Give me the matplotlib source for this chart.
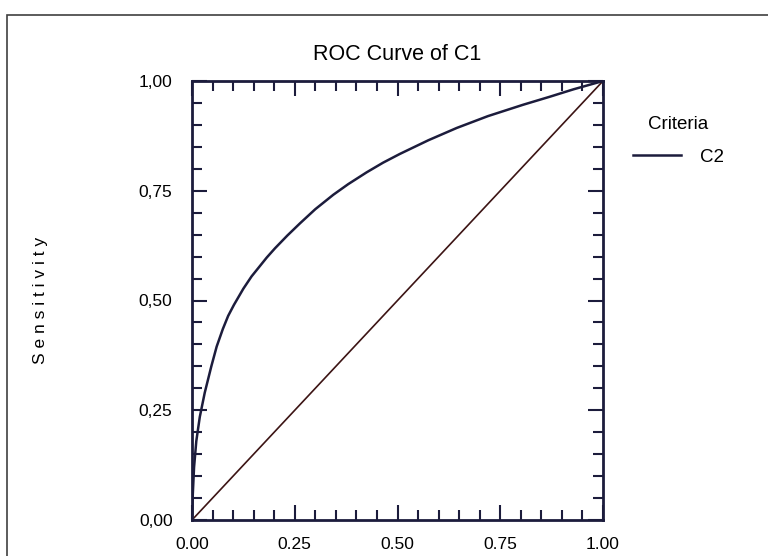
import matplotlib.pyplot as plt
from matplotlib.patches import Rectangle
from matplotlib.ticker import MultipleLocator, FuncFormatter

plt.rcParams['font.family'] = ['Liberation Sans', 'DejaVu Sans']

# ROC curve points (1 - specificity, sensitivity)
fpr = [0.0, 0.001, 0.002, 0.005, 0.0105, 0.019, 0.031, 0.047, 0.060, 0.075,
       0.088, 0.102, 0.125, 0.145, 0.182, 0.202, 0.232, 0.263, 0.300, 0.344,
       0.380, 0.425, 0.465, 0.506, 0.575, 0.644, 0.720, 0.806, 0.870, 0.928,
       1.0]
tpr = [0.0, 0.03, 0.06, 0.12, 0.18, 0.235, 0.29, 0.35, 0.395, 0.435,
       0.465, 0.49, 0.527, 0.555, 0.598, 0.619, 0.648, 0.676, 0.708, 0.741,
       0.765, 0.792, 0.814, 0.834, 0.865, 0.893, 0.920, 0.946, 0.964, 0.981,
       1.0]
diag = [0.0, 1.0]
title = 'ROC Curve of C1'
legend_title = 'Criteria'
series_name = 'C2'

fig = plt.figure(figsize=(7.68, 5.56), dpi=100)
# outer frame, runs off the right and bottom edges
fig.patches.append(Rectangle((7 / 768, -0.1), 1.2, 1 - 15 / 556 + 0.1,
                             transform=fig.transFigure, fill=False,
                             edgecolor='#404040', linewidth=1.2))

ax = fig.add_axes([192 / 768, 36 / 556, 411 / 768, 439 / 556])
navy = '#1c1c3c'
curve, = ax.plot(fpr, tpr, color=navy, linewidth=1.8, label=series_name,
                 solid_joinstyle='round')
ax.plot(diag, diag, color='#3c1414', linewidth=1.2)
ax.set_xlim(0, 1)
ax.set_ylim(0, 1)

for s in ax.spines.values():
    s.set_color(navy)
    s.set_linewidth(2)

ax.xaxis.set_major_locator(MultipleLocator(0.25))
ax.xaxis.set_minor_locator(MultipleLocator(0.05))
ax.yaxis.set_major_locator(MultipleLocator(0.25))
ax.yaxis.set_minor_locator(MultipleLocator(0.05))
ax.xaxis.set_major_formatter(FuncFormatter(lambda v, p: f'{v:.2f}'))
ax.yaxis.set_major_formatter(FuncFormatter(lambda v, p: f'{v:.2f}'.replace('.', ',')))
ax.tick_params(which='both', direction='in', top=True, right=True, color=navy,
               width=1.5, labelsize=12.5)
ax.tick_params(which='major', length=11)
ax.tick_params(which='minor', length=7)
ax.tick_params(axis='x', which='major', pad=12)
ax.tick_params(axis='y', which='major', pad=14)

ax.set_title(title, fontsize=15.5, pad=15)
fig.text(40 / 768, 1 - 300 / 556, 'S e n s i t i v i t y', rotation=90,
         ha='center', va='center', fontsize=12.5)

fig.text(678 / 768, 1 - 125 / 556, legend_title, ha='center', va='center',
         fontsize=13.5)
ax.legend(handles=[curve], loc='center left', bbox_to_anchor=(633 / 768, 1 - 157 / 556),
          bbox_transform=fig.transFigure, frameon=False, fontsize=13.5,
          handlelength=2.55, handletextpad=1.0, borderpad=0, borderaxespad=0)

plt.savefig('out.png', dpi=100)
